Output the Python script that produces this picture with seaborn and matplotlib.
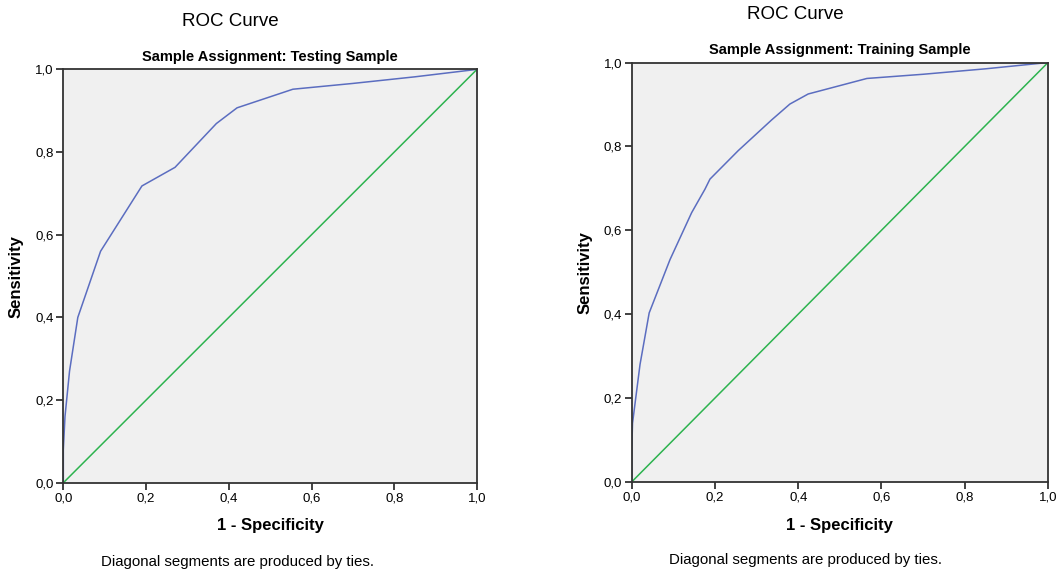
import matplotlib
matplotlib.use("Agg")
import matplotlib.pyplot as plt
import pandas as pd
import seaborn as sns

# testing sample roc points (1 - specificity, sensitivity)
test_fpr = [0.0, 0.0, 0.004, 0.015, 0.035, 0.09, 0.19, 0.27, 0.37, 0.42, 0.555, 0.7, 0.85, 1.0]
test_tpr = [0.0, 0.08, 0.16, 0.27, 0.40, 0.56, 0.718, 0.763, 0.869, 0.907, 0.952, 0.966, 0.982, 1.0]

# training sample roc points
train_fpr = [0.0, 0.0, 0.002, 0.02, 0.042, 0.092, 0.144, 0.176, 0.188, 0.256, 0.336, 0.38,
             0.424, 0.485, 0.565, 0.7, 0.85, 1.0]
train_tpr = [0.0, 0.07, 0.14, 0.28, 0.403, 0.53, 0.642, 0.698, 0.722, 0.79, 0.863, 0.901,
             0.925, 0.941, 0.962, 0.972, 0.985, 1.0]

ref_line = [0.0, 1.0]
ticks = [0.0, 0.2, 0.4, 0.6, 0.8, 1.0]
tick_labels = ["0,0", "0,2", "0,4", "0,6", "0,8", "1,0"]

sns.set_style("white")
plt.rcParams['font.family'] = ['Liberation Sans', 'DejaVu Sans']
plt.rcParams['text.color'] = 'black'
plt.rcParams['axes.labelcolor'] = 'black'

fig = plt.figure(figsize=(10.59, 5.71), dpi=100)
ax1 = fig.add_axes([0.0598, 0.1545, 0.3906, 0.724])
ax2 = fig.add_axes([0.5965, 0.156, 0.3931, 0.7345])

curve_col = "#5b6dc0"
ref_col = "#2db34f"

def draw(ax, fpr, tpr, sub):
    df = pd.DataFrame({"x": fpr, "y": tpr})
    sns.lineplot(data=df, x="x", y="y", ax=ax, color=curve_col, lw=1.1, sort=False, estimator=None)
    sns.lineplot(x=ref_line, y=ref_line, ax=ax, color=ref_col, lw=1.1)
    ax.set_facecolor("#f0f0f0")
    ax.set_xlim(0, 1)
    ax.set_ylim(0, 1)
    ax.set_xticks(ticks)
    ax.set_xticklabels(tick_labels, fontsize=9.5)
    ax.set_yticks(ticks)
    ax.set_yticklabels(tick_labels, fontsize=9.5)
    ax.tick_params(bottom=True, left=True, direction="out", length=5, width=1.3,
                   color="#333333", labelcolor="black", pad=2)
    for s in ax.spines.values():
        s.set_color("#333333")
        s.set_linewidth(1.3)
    ax.set_xlabel("1 - Specificity", fontsize=12, fontweight="bold", labelpad=10)
    ax.set_ylabel("Sensitivity", fontsize=12, fontweight="bold", labelpad=8)
    ax.set_title(sub, fontsize=10.5, fontweight="bold", pad=6)

draw(ax1, test_fpr, test_tpr, "Sample Assignment: Testing Sample")
draw(ax2, train_fpr, train_tpr, "Sample Assignment: Training Sample")

fig.text(0.2174, 0.962, "ROC Curve", ha="center", va="center", fontsize=13.5)
fig.text(0.7507, 0.974, "ROC Curve", ha="center", va="center", fontsize=13.5)
fig.text(0.224, 0.016, "Diagonal segments are produced by ties.", ha="center", va="center", fontsize=10.8)
fig.text(0.761, 0.019, "Diagonal segments are produced by ties.", ha="center", va="center", fontsize=10.8)

plt.savefig("out.png", dpi=100)
